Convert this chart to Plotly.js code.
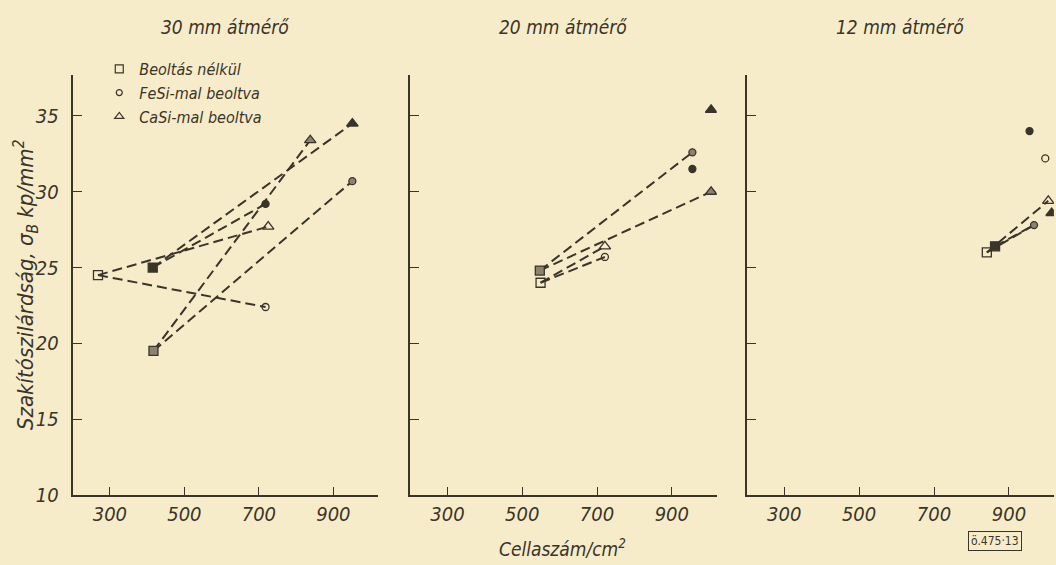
<!DOCTYPE html>
<html><head><meta charset="utf-8">
<script src="https://cdn.plot.ly/plotly-3.0.1.min.js"></script>
<style>html,body{margin:0;padding:0;background:#f7ecc9;}</style>
</head><body><div id="chart" style="width:1056px;height:565px;"></div>
<script>
// ---------- DATA ----------
const panelTitles = ['30 mm átmérő', '20 mm átmérő', '12 mm átmérő'];
const legendNames = ['Beoltás nélkül', 'FeSi-mal beoltva', 'CaSi-mal beoltva'];
const xTicks = [300, 500, 700, 900];
const yTicks = [10, 15, 20, 25, 30, 35];
const yLabel = 'Szakítószilárdság, σ<sub>B</sub> kp/mm<sup>2</sup>';
const xLabel = 'Cellaszám/cm<sup>2</sup>';
const stamp = 'ö.475·13';

// series index: 0 = Beoltás nélkül (square), 1 = FeSi (circle), 2 = CaSi (triangle)
// fill group: 0 = open, 1 = filled, 2 = half-filled
// Panel 1 – 30 mm
const p1X    = [268, 415, 417, 718, 718, 951, 725, 951, 838];
const p1Y    = [24.5, 25.0, 19.5, 22.4, 29.2, 30.7, 27.7, 34.5, 33.4];
const p1Ser  = [0, 0, 0, 1, 1, 1, 2, 2, 2];
const p1Grp  = [0, 1, 2, 0, 1, 2, 0, 1, 2];
const p1Links = [[0, 3], [0, 6], [1, 4], [1, 7], [2, 5], [2, 8]];
// Panel 2 – 20 mm
const p2X    = [549, 547, 721, 955, 955, 721, 1005, 1005];
const p2Y    = [24.0, 24.8, 25.7, 31.5, 32.6, 26.4, 35.4, 30.0];
const p2Ser  = [0, 0, 1, 1, 1, 2, 2, 2];
const p2Grp  = [0, 2, 0, 1, 2, 0, 1, 2];
const p2Links = [[0, 2], [0, 5], [1, 4], [1, 7]];
// Panel 3 – 12 mm
const p3X    = [841, 863, 997, 955, 967, 1005, 1014];
const p3Y    = [26.0, 26.4, 32.2, 34.0, 27.8, 29.4, 28.6];
const p3Ser  = [0, 0, 1, 1, 1, 2, 2];
const p3Grp  = [0, 1, 0, 1, 2, 0, 1];
const p3Links = [[0, 4], [0, 5], [1, 4]];

// ---------- STYLE ----------
const INK = '#3a342a';
const BG = '#f7ecc9';
const FONT = '"Liberation Sans Narrow", "DejaVu Sans Condensed", "Liberation Sans", sans-serif';
const symNames = ['square', 'circle', 'triangle-up'];
const symSize = [9, 7, 10];

const panels = [
  {x: p1X, y: p1Y, ser: p1Ser, grp: p1Grp, links: p1Links},
  {x: p2X, y: p2Y, ser: p2Ser, grp: p2Grp, links: p2Links},
  {x: p3X, y: p3Y, ser: p3Ser, grp: p3Grp, links: p3Links}
];
const domains = [[0.0688, 0.358], [0.3883, 0.6787], [0.7071, 0.998]];

const traces = [];
panels.forEach((p, pi) => {
  const xa = pi === 0 ? 'x' : 'x' + (pi + 1);
  const ya = pi === 0 ? 'y' : 'y' + (pi + 1);
  const lx = [], ly = [];
  p.links.forEach(([a, b]) => { lx.push(p.x[a], p.x[b], null); ly.push(p.y[a], p.y[b], null); });
  traces.push({x: lx, y: ly, xaxis: xa, yaxis: ya, mode: 'lines', showlegend: false, hoverinfo: 'skip',
    line: {color: INK, width: 2, dash: '10px,5px'}});
  for (let s = 0; s < 3; s++) {
    for (let g = 0; g < 3; g++) {
      const xs = [], ys = [];
      p.x.forEach((v, i) => { if (p.ser[i] === s && p.grp[i] === g) { xs.push(v); ys.push(p.y[i]); } });
      if (!xs.length) continue;
      const m = {size: symSize[s], color: INK, line: {color: INK, width: 1.3}};
      if (g === 0) { m.symbol = symNames[s] + '-open'; }
      else if (g === 1) { m.symbol = symNames[s]; }
      else { m.symbol = symNames[s]; m.color = '#8c8270'; }
      traces.push({x: xs, y: ys, xaxis: xa, yaxis: ya, mode: 'markers', marker: m,
        name: legendNames[s], showlegend: false, hoverinfo: 'x+y'});
    }
  }
});
// legend entries (open symbols, as in the printed key)
for (let s = 0; s < 3; s++) {
  traces.push({x: [null], y: [null], xaxis: 'x', yaxis: 'y', mode: 'markers', name: legendNames[s],
    marker: {symbol: symNames[s] + '-open', size: s === 1 ? 6 : 8, color: INK, line: {width: 1.2}}});
}

const tickFont = {family: FONT, size: 20, color: INK, style: 'italic'};
function xAxis(i) {
  return {domain: domains[i], range: [200, 1020], anchor: i === 0 ? 'y' : 'y' + (i + 1),
    tickvals: xTicks, ticks: 'inside', ticklen: 8, tickwidth: 1, tickcolor: INK,
    showline: true, linecolor: INK, linewidth: 2, showgrid: false, zeroline: false,
    tickfont: tickFont, fixedrange: true};
}
function yAxis(i) {
  return {domain: [0, 1], range: [10, 37.7], anchor: i === 0 ? 'x' : 'x' + (i + 1),
    tickvals: yTicks, ticks: 'inside', ticklen: 9, tickwidth: 1, tickcolor: INK,
    showline: true, linecolor: INK, linewidth: 2, showgrid: false, zeroline: false,
    showticklabels: i === 0, tickfont: tickFont, ticklabelstandoff: 8, fixedrange: true};
}

const annFont = {family: FONT, size: 19, color: INK, style: 'italic'};
const annotations = panelTitles.map((t, i) => ({
  text: t, xref: 'paper', yref: 'paper', x: (domains[i][0] + domains[i][1]) / 2, y: 1.114,
  xanchor: 'center', yanchor: 'middle', showarrow: false, font: annFont}));
annotations.push({text: yLabel, xref: 'paper', yref: 'paper', x: 0.0246, y: 0.5, textangle: -90,
  xanchor: 'center', yanchor: 'middle', showarrow: false, font: {family: FONT, size: 22, color: INK, style: 'italic'}});
annotations.push({text: xLabel, xref: 'paper', yref: 'paper', x: 0.533, y: -0.125,
  xanchor: 'center', yanchor: 'middle', showarrow: false, font: annFont});
annotations.push({text: stamp, xref: 'paper', yref: 'paper', x: 0.942, y: -0.11,
  xanchor: 'center', yanchor: 'middle', showarrow: false, bordercolor: INK, borderwidth: 1, borderpad: 2,
  font: {family: FONT, size: 12, color: INK}});

const layout = {
  width: 1056, height: 565, autosize: false,
  margin: {l: 0, r: 0, t: 75, b: 70},
  paper_bgcolor: BG, plot_bgcolor: BG,
  font: {family: FONT, color: INK},
  showlegend: true,
  legend: {x: 0.094, y: 1.055, xanchor: 'left', yanchor: 'top', bgcolor: 'rgba(0,0,0,0)',
    font: {family: FONT, size: 16, color: INK, style: 'italic'}, tracegroupgap: 0},
  xaxis: xAxis(0), yaxis: yAxis(0),
  xaxis2: xAxis(1), yaxis2: yAxis(1),
  xaxis3: xAxis(2), yaxis3: yAxis(2),
  annotations: annotations
};

Plotly.newPlot('chart', traces, layout, {displayModeBar: false, staticPlot: true});
</script>
</body></html>
